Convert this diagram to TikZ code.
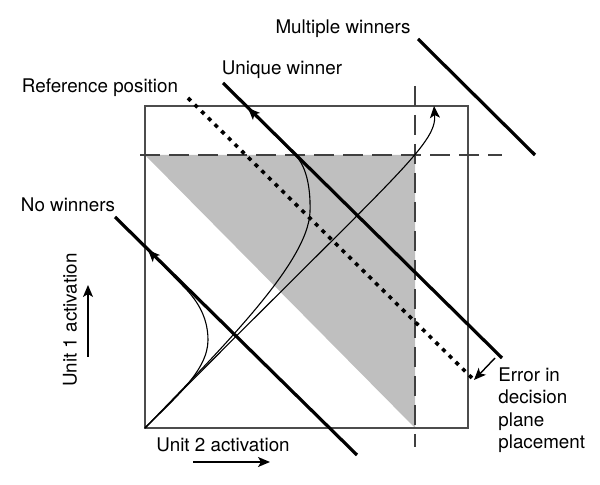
\documentclass[tikz,border=0pt]{standalone}
\usepackage{fontspec}
\setmainfont{TeX Gyre Heros}
\usetikzlibrary{arrows.meta}
\tikzset{
  frame/.style={draw=black!70,line width=0.6pt},
  guide/.style={draw=black!75,line width=0.6pt,dash pattern=on 10pt off 4.5pt},
  plane/.style={draw=black,line width=1.6pt},
  refplane/.style={draw=black,line width=1.8pt,dash pattern=on 2pt off 2.7pt},
  traj/.style={draw=black,line width=0.55pt},
  tip/.style={-{Stealth[length=6pt,width=5pt,inset=1.5pt]}},
  lbl/.style={font=\fontsize{9.4}{11.25}\selectfont,inner sep=0pt},
}
\begin{document}
\begin{tikzpicture}[x=0.5pt,y=-0.5pt]
  \useasboundingbox (0,0) rectangle (600,485);
  % corners and crossings
  \coordinate (o)  at (145,428);  \coordinate (tr) at (468,106);
  \coordinate (g1) at (145,155);  \coordinate (x)  at (415,155);  \coordinate (g2) at (415,428);
  \fill[black!25] (g1) -- (x) -- (g2) -- cycle;
  \draw[frame] (o) rectangle (tr);
  \coordinate (h1) at (140,155);  \coordinate (h2) at (502,155);
  \coordinate (v1) at (415,86);   \coordinate (v2) at (415,447);
  \draw[guide] (h1) -- (h2);  \draw[guide] (v1) -- (v2);

  % decision planes
  \coordinate (nw1) at (115,217); \coordinate (nw2) at (357,455);
  \coordinate (uw1) at (223,83);  \coordinate (uw2) at (502,358);
  \coordinate (mw1) at (418,39);  \coordinate (mw2) at (535,155);
  \coordinate (rp1) at (188,98);  \coordinate (rp2) at (474,380);
  \draw[plane] (nw1) -- (nw2);
  \draw[plane] (uw1) -- (uw2);
  \draw[plane] (mw1) -- (mw2);
  \draw[refplane] (rp1) -- (rp2);

  % trajectories
  \coordinate (a) at (434,106);
  \draw[traj,tip] (o) .. controls (395,175) and (437,145) .. (a);
  \coordinate (b1) at (310,212); \coordinate (b2) at (296,156); \coordinate (b) at (248,108);
  \draw[traj,tip] (o) .. controls (225,345) and (308,262) .. (b1)
                      .. controls (311,180) and (303,163) .. (b2) -- (b);
  \coordinate (c1) at (208,340); \coordinate (c2) at (183,286); \coordinate (c) at (148,250);
  \draw[traj,tip] (o) .. controls (175,398) and (208,370) .. (c1)
                      .. controls (208,315) and (195,298) .. (c2) -- (c);

  % labels
  \node[lbl,anchor=base] (mw) at (343,34) {Multiple winners};
  \node[lbl,anchor=base] (uw) at (282,75) {Unique winner};
  \node[lbl,anchor=base] (rp) at (100,93) {Reference position};
  \node[lbl,anchor=base] (nw) at (68,212) {No winners};
  \node[lbl,rotate=90] (u1) at (70,320) {Unit 1 activation};
  \node[lbl,anchor=base] (u2) at (223,452) {Unit 2 activation};
  \node[lbl,anchor=north west,align=left] (err) at (498,367) {Error in\\decision\\plane\\placement};

  % arrows
  \coordinate (e1) at (495,358);
  \draw[traj,line width=0.7pt,tip] (e1) -- (rp2);
  \coordinate (ya) at (88,357); \coordinate (yb) at (88,285);
  \coordinate (xa) at (193,462); \coordinate (xb) at (270,462);
  \draw[traj,line width=0.7pt,tip] (ya) -- (yb);
  \draw[traj,line width=0.7pt,tip] (xa) -- (xb);
\end{tikzpicture}
\end{document}
